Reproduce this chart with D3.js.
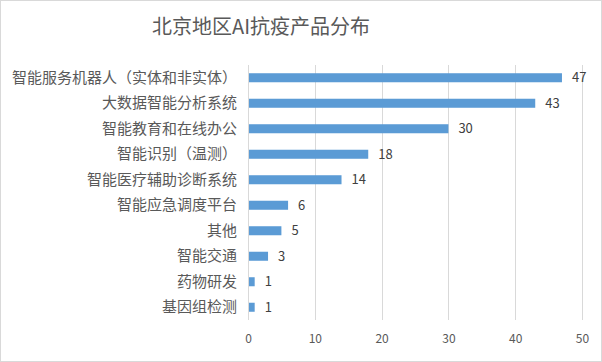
<!DOCTYPE html>
<html>
<head>
<meta charset="utf-8">
<script src="https://cdn.jsdelivr.net/npm/d3@7"></script>
<style>
  body { margin: 0; background: #fff; }
  text { font-family: "Noto Sans CJK SC", "Noto Sans", sans-serif; }
</style>
</head>
<body>
<div id="chart"></div>
<script>
let categories = ["智能服务机器人（实体和非实体）", "大数据智能分析系统", "智能教育和在线办公", "智能识别（温测）",
    "智能医疗辅助诊断系统", "智能应急调度平台", "其他", "智能交通", "药物研发", "基因组检测"];
let values = [47, 43, 30, 18, 14, 6, 5, 3, 1, 1];
let xTicks = [0, 10, 20, 30, 40, 50];
let title = "北京地区AI抗疫产品分布";

let W = 602, H = 362;
let margin = {top: 65, right: 20, bottom: 42, left: 248};
let width = 582 - margin.left,
    height = 320 - margin.top;

let svg = d3.select("#chart")
  .append("svg")
    .attr("width", W)
    .attr("height", H);

// outer border
svg.append("rect")
    .attr("x", 0.5).attr("y", 0.5)
    .attr("width", W - 1).attr("height", H - 1)
    .attr("fill", "#fff")
    .attr("stroke", "#d9d9d9");

svg.append("text")
    .attr("x", 261)
    .attr("y", 34)
    .attr("text-anchor", "middle")
    .attr("font-size", "20px")
    .attr("fill", "#595959")
    .text(title);

let g = svg.append("g")
    .attr("transform", "translate(" + margin.left + "," + margin.top + ")");

let x = d3.scaleLinear()
    .domain([0, 50])
    .range([0, width]);

let y = d3.scaleBand()
    .domain(categories)
    .range([0, height])
    .paddingInner(0.646)
    .paddingOuter(0.323);

// gridlines
g.selectAll(".grid")
    .data(xTicks.slice(1))
    .enter()
    .append("line")
    .attr("x1", d => Math.round(x(d)) + 0.5)
    .attr("x2", d => Math.round(x(d)) + 0.5)
    .attr("y1", 0)
    .attr("y2", height)
    .attr("stroke", "#d9d9d9");

// bars
g.selectAll("rect.bar")
    .data(values)
    .enter()
    .append("rect")
    .attr("class", "bar")
    .attr("x", x(0))
    .attr("y", (d, i) => y(categories[i]))
    .attr("width", d => x(d) - x(0))
    .attr("height", y.bandwidth())
    .attr("fill", "#5b9bd5");

// value labels
g.selectAll("text.val")
    .data(values)
    .enter()
    .append("text")
    .attr("class", "val")
    .attr("x", d => x(d) + 10)
    .attr("y", (d, i) => y(categories[i]) + y.bandwidth() / 2)
    .attr("dy", "0.36em")
    .attr("font-size", "13px")
    .attr("fill", "#404040")
    .text(d => d);

// y axis (category labels + line)
let yAxis = g.append("g")
    .call(d3.axisLeft(y).tickSize(0).tickPadding(11));
yAxis.select(".domain").attr("stroke", "#d9d9d9").attr("d", "M0.5,0V" + height);
yAxis.selectAll("text")
    .attr("font-size", "15px")
    .attr("fill", "#595959")
    .style("font-family", "'Noto Sans CJK SC', sans-serif");

// x axis labels
let xAxis = g.append("g")
    .attr("transform", "translate(0," + height + ")")
    .call(d3.axisBottom(x).tickValues(xTicks).tickSize(0).tickPadding(14));
xAxis.select(".domain").remove();
xAxis.selectAll("text")
    .attr("font-size", "12px")
    .attr("fill", "#595959")
    .style("font-family", "'Noto Sans CJK SC', sans-serif");
</script>
</body>
</html>
